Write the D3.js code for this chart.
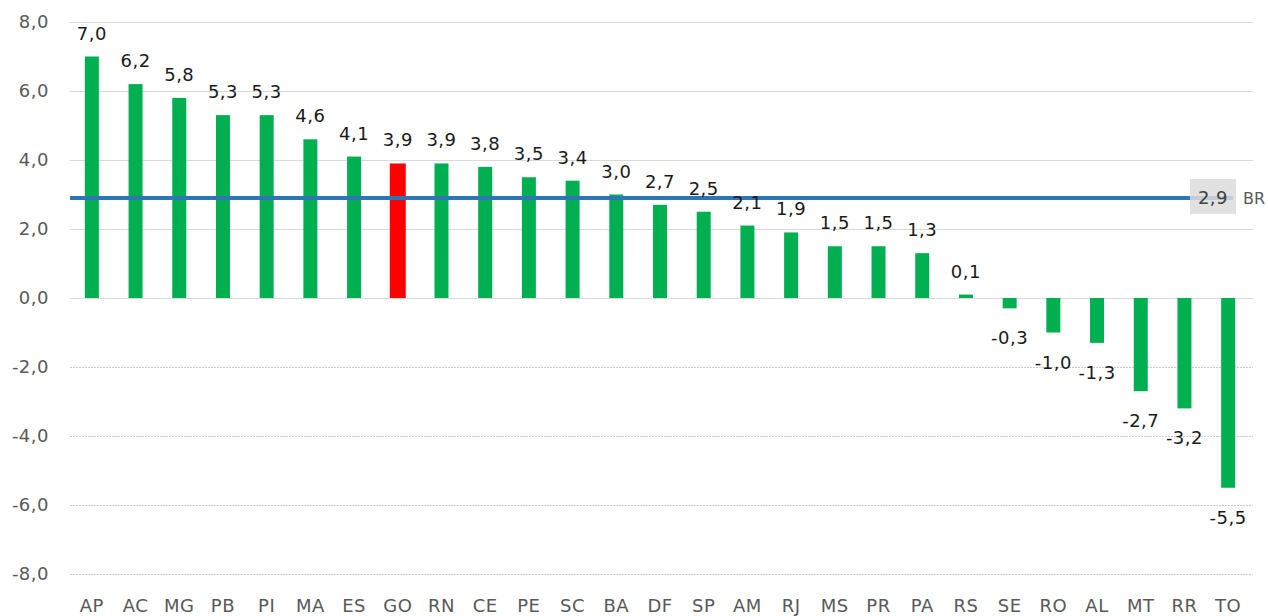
<!DOCTYPE html>
<html>
<head>
<meta charset="utf-8">
<script src="https://cdn.jsdelivr.net/npm/d3@7"></script>
<style>
  body { margin: 0; background: #fff; }
  text { font-family: "DejaVu Sans", sans-serif; }
</style>
</head>
<body>
<script>
// states, sorted as in the source chart
var states = ["AP","AC","MG","PB","PI","MA","ES","GO","RN","CE","PE","SC","BA","DF",
              "SP","AM","RJ","MS","PR","PA","RS","SE","RO","AL","MT","RR","TO"];
var values = [7.0, 6.2, 5.8, 5.3, 5.3, 4.6, 4.1, 3.9, 3.9, 3.8, 3.5, 3.4, 3.0, 2.7,
              2.5, 2.1, 1.9, 1.5, 1.5, 1.3, 0.1, -0.3, -1.0, -1.3, -2.7, -3.2, -5.5];
var highlight = "GO";
var brValue = 2.9;
var brLabel = "BR";
var yTicks = [-8, -6, -4, -2, 0, 2, 4, 6, 8];

var width = 1268, height = 616;
var plotLeft = 70, plotRight = 1250, plotTop = 22, plotBottom = 574;

// pt-BR style: comma decimal, plain hyphen for minus
var fmt = function(v) {
    return d3.format(".1f")(v).replace(".", ",").replace("\u2212", "-");
};

var svg = d3.select("body").append("svg")
    .attr("width", width)
    .attr("height", height);

var x = d3.scaleBand()
    .domain(states)
    .range([plotLeft, plotRight])
    .paddingInner(0.68)
    .paddingOuter(0.34);

var y = d3.scaleLinear()
    .domain([-8, 8])
    .range([plotBottom, plotTop]);

// gridlines: solid above zero, dotted below
svg.append("g").selectAll("line")
    .data(yTicks)
    .enter().append("line")
      .attr("x1", plotLeft)
      .attr("x2", plotRight + 3)
      .attr("y1", function(d) { return Math.round(y(d)) + 0.5; })
      .attr("y2", function(d) { return Math.round(y(d)) + 0.5; })
      .attr("stroke", function(d) { return d >= 0 ? "#d9d9d9" : "#c9cbd3"; })
      .attr("stroke-width", 1.2)
      .attr("stroke-dasharray", function(d) { return d >= 0 ? null : "2,1"; });

// y axis labels
svg.append("g").selectAll("text")
    .data(yTicks)
    .enter().append("text")
      .attr("x", 49)
      .attr("y", function(d) { return y(d); })
      .attr("dy", "0.36em")
      .attr("text-anchor", "end")
      .attr("fill", "#595959")
      .style("font-size", "18px")
      .style("letter-spacing", "0.5px")
      .text(fmt);

// bars
var data = states.map(function(s, i) { return {name: s, value: values[i]}; });

svg.append("g").selectAll("rect")
    .data(data)
    .enter().append("rect")
      .attr("x", function(d) { return x(d.name) - (d.name === highlight ? 1 : 0); })
      .attr("width", function(d) { return x.bandwidth() + (d.name === highlight ? 2 : 0); })
      .attr("y", function(d) { return y(Math.max(0, d.value)); })
      .attr("height", function(d) { return Math.max(1.5, Math.abs(y(d.value) - y(0))); })
      .attr("fill", function(d) { return d.name === highlight ? "#ff0000" : "#00b050"; });

// BR reference line
svg.append("line")
    .attr("x1", plotLeft)
    .attr("x2", 1233)
    .attr("y1", y(brValue))
    .attr("y2", y(brValue))
    .attr("stroke", "#2e75b6")
    .attr("stroke-width", 4);

svg.append("rect")
    .attr("x", 1190)
    .attr("y", y(brValue) - 19)
    .attr("width", 46)
    .attr("height", 35)
    .attr("fill", "#dcdcdc")
    .attr("opacity", 0.85);

svg.append("text")
    .attr("x", 1213)
    .attr("y", y(brValue))
    .attr("dy", "0.36em")
    .attr("text-anchor", "middle")
    .attr("fill", "#404040")
    .style("font-size", "18px")
    .style("letter-spacing", "0.5px")
    .text(fmt(brValue));

svg.append("text")
    .attr("x", 1243)
    .attr("y", y(brValue))
    .attr("dy", "0.36em")
    .attr("fill", "#595959")
    .style("font-size", "16px")
    .text(brLabel);

// value labels
svg.append("g").selectAll("text")
    .data(data)
    .enter().append("text")
      .attr("x", function(d) { return x(d.name) + x.bandwidth() / 2; })
      .attr("y", function(d) { return d.value >= 0 ? y(d.value) - 17 : y(d.value) + 36; })
      .attr("text-anchor", "middle")
      .attr("fill", "#1a1a1a")
      .style("font-size", "18px")
      .style("letter-spacing", "0.5px")
      .text(function(d) { return fmt(d.value); });

// x axis labels
svg.append("g").selectAll("text")
    .data(states)
    .enter().append("text")
      .attr("x", function(d) { return x(d) + x.bandwidth() / 2; })
      .attr("y", 612)
      .attr("text-anchor", "middle")
      .attr("fill", "#595959")
      .style("font-size", "18px")
      .style("letter-spacing", "0.5px")
      .text(function(d) { return d; });
</script>
</body>
</html>
